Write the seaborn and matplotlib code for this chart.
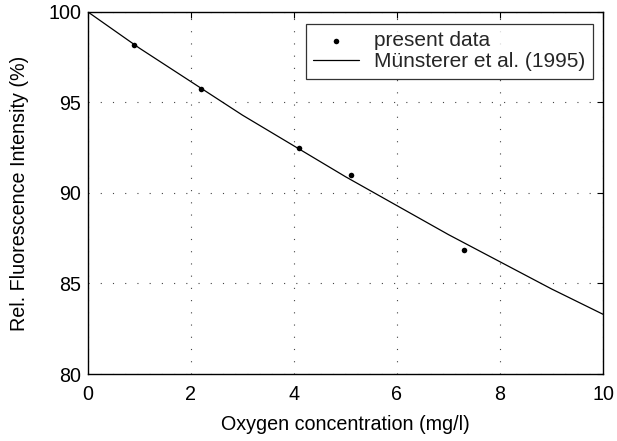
import matplotlib
matplotlib.use("Agg")
import matplotlib.pyplot as plt
import seaborn as sns
import pandas as pd

# measured data points
data_x = [0.9, 2.2, 4.1, 5.1, 7.3]
data_y = [98.2, 95.75, 92.5, 91.0, 86.85]

# literature curve
curve_x = [0, 1, 2, 3, 4, 5, 6, 7, 8, 9, 10]
curve_y = [100.0, 98.0, 96.15, 94.3, 92.6, 90.9, 89.3, 87.7, 86.2, 84.7, 83.3]

x_ticks = [0, 2, 4, 6, 8, 10]
y_ticks = [80, 85, 90, 95, 100]

sns.set_theme(style="white")
plt.rcParams['font.family'] = ['Liberation Sans', 'DejaVu Sans']
FS = 14.2

fig = plt.figure(figsize=(6.17, 4.41), dpi=100)
ax = fig.add_axes([88/617, 1-374/441, (603-88)/617, (374-12)/441])

df_pts = pd.DataFrame({"x": data_x, "y": data_y})
df_cur = pd.DataFrame({"x": curve_x, "y": curve_y})

sns.scatterplot(data=df_pts, x="x", y="y", ax=ax, color="black", s=16,
                edgecolor="black", linewidth=0, label="present data", zorder=3)
sns.lineplot(data=df_cur, x="x", y="y", ax=ax, color="black", linewidth=0.9,
             label="Münsterer et al. (1995)", zorder=2)

ax.set_xlim(0, 10)
ax.set_ylim(80, 100)
ax.set_xticks(x_ticks)
ax.set_yticks(y_ticks)
ax.grid(True, linestyle=(0, (1, 10)), color="#444444", linewidth=0.8)
for s in ax.spines.values():
    s.set_color("black")
    s.set_linewidth(1.0)
ax.tick_params(direction="in", length=4, width=0.8, colors="black",
               top=True, right=True, labelsize=FS)
ax.tick_params(axis="x", pad=8)
ax.tick_params(axis="y", pad=5)
ax.set_xlabel("Oxygen concentration (mg/l)", fontsize=FS, color="black", labelpad=8)
ax.set_ylabel("Rel. Fluorescence Intensity (%)", fontsize=FS, color="black", labelpad=14)

leg = ax.legend(loc="upper right", bbox_to_anchor=(0.9806, 0.967), fancybox=False,
                frameon=True, edgecolor="black", fontsize=15, borderpad=0.35,
                handlelength=2.2, handletextpad=0.75, labelspacing=0.1,
                borderaxespad=0)
leg.get_frame().set_linewidth(0.9)

fig.savefig("out.png", dpi=100)
